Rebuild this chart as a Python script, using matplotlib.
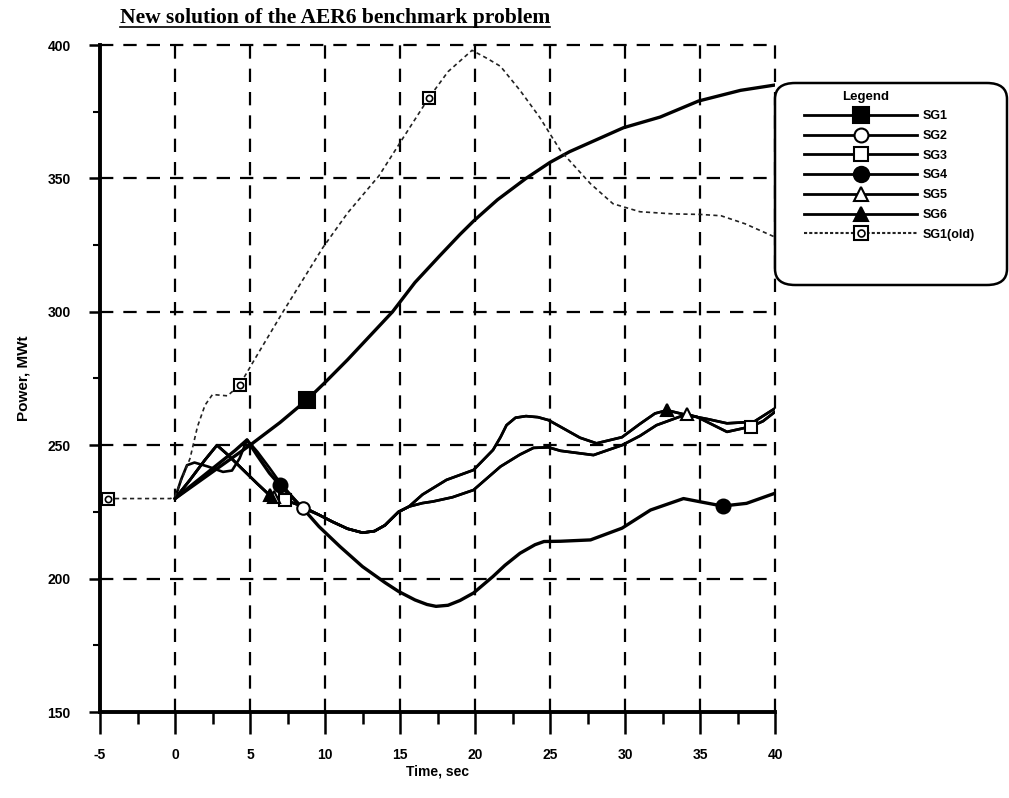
import numpy as np
import matplotlib
matplotlib.use("Agg")
import matplotlib.pyplot as plt
from matplotlib.lines import Line2D
from matplotlib.patches import FancyBboxPatch
from matplotlib.legend_handler import HandlerTuple
from matplotlib.ticker import MultipleLocator

plt.rcParams['font.family'] = ['Liberation Sans', 'DejaVu Sans']

# ---------------- data ----------------
sg1_t = [0, 2.5, 5, 7, 8.8, 10, 11.5, 12.5, 14.5, 16, 17.65, 19, 19.9, 21.5, 23.4, 25, 26.3, 27.7, 29.9, 32.35, 34.9, 37.7, 40]
sg1_p = [230, 240, 250, 258.5, 267, 273.5, 282, 288, 300, 311, 321, 329, 334, 342, 350, 356, 360, 363.5, 369, 373, 379, 383, 385]

sg2_t = [0, 0.4, 0.8, 1.3, 2.2, 3.2, 3.8, 4.3, 4.8, 5.5, 6.3, 7, 8.5, 9.6, 10.5, 11.5, 12.5, 13.3, 14, 14.9, 15.6, 16.5,
         18.1, 19.9, 21.2, 21.7, 22.1, 22.7, 23.4, 24.2, 24.9, 25.7, 27, 28.1, 29.8, 31, 32, 32.8, 34.2, 35.5, 36.8, 38.6, 40]
sg2_p = [230, 237, 242.5, 243.5, 242, 240, 240.5, 245, 252, 247.5, 241.5, 236, 226.4, 223.9, 221.3, 218.7, 217.2, 217.8, 220, 225, 227, 231.5,
         237, 240.7, 248.2, 253, 257.5, 260.3, 260.9, 260.5, 259.4, 256.9, 252.8, 250.7, 253, 258, 261.9, 263.1, 261.2, 259.8, 258.2, 258.8, 263.8]

sg3_t = [0, 1, 2, 2.8, 3.5, 4.5, 5.5, 6.3, 7.3, 8.3, 9.6, 10.5, 11.5, 12.5, 13.3, 14, 14.9, 15.6, 16.5, 17.2, 18.5, 19.9,
         21.7, 23, 23.9, 24.9, 25.7, 27.9, 29.8, 31, 32.1, 34.1, 34.8, 36.8, 38.4, 39.2, 40]
sg3_p = [230, 237, 244.5, 250, 246.5, 241, 235.5, 231.3, 229.5, 227.5, 223.9, 221.3, 218.7, 217.2, 217.8, 220, 225, 227, 228.3, 228.9, 230.5, 233.2,
         242, 246.5, 249, 249.2, 247.9, 246.3, 250, 253.5, 257.5, 261.6, 260.6, 255, 257, 259, 262.5]

sg4_t = [0, 2, 4, 4.8, 5.5, 6.3, 7, 8.5, 9.6, 11, 12.5, 14, 14.9, 16, 16.8, 17.4, 18.2, 19, 19.9, 21.2, 22, 23,
         24, 24.6, 25.7, 27.7, 29.8, 31.7, 33.9, 35, 36.5, 38.1, 40]
sg4_p = [230, 239, 248, 252, 246, 239.5, 235, 226.5, 219.5, 212, 204.5, 198.5, 195.2, 192, 190.3, 189.6, 190, 191.8, 194.6, 200.8, 205, 209.5,
         212.7, 213.9, 214, 214.5, 218.9, 225.7, 230, 228.8, 227.2, 228.2, 232]

sg5_t = sg3_t
sg5_p = sg3_p

sg6_t = [0, 1, 2, 2.8, 3.5, 4.5, 5.5, 6.3, 7.3, 8.3, 9.6, 10.5, 11.5, 12.5, 13.3, 14, 14.9, 15.6, 16.5,
         18.1, 19.9, 21.2, 21.7, 22.1, 22.7, 23.4, 24.2, 24.9, 25.7, 27, 28.1, 29.8, 31, 32, 32.8, 34.2, 35.5, 36.8, 38.6, 40]
sg6_p = [230, 237, 244.5, 250, 246.5, 241, 235.5, 231.3, 229.5, 227.5, 223.9, 221.3, 218.7, 217.2, 217.8, 220, 225, 227, 231.5,
         237, 240.7, 248.2, 253, 257.5, 260.3, 260.9, 260.5, 259.4, 256.9, 252.8, 250.7, 253, 258, 261.9, 263.1, 261.2, 259.8, 258.2, 258.8, 263.8]

old_t = [-5, -0.3, 0, 0.5, 1, 1.5, 2, 2.5, 3.5, 4.3, 5.5, 7.2, 9.85, 11.5, 13.6, 15.3, 16.9, 18.2, 19.8, 20.8,
         21.7, 23, 24.3, 25.7, 27.7, 29.2, 31, 33.2, 35, 36.4, 38, 40]
old_p = [230, 230, 231, 238, 245, 257, 265, 269, 268.5, 272.5, 284, 300, 324, 337, 351, 366, 380, 390, 398, 395,
         392, 383, 373, 360.4, 348, 340.5, 337.5, 336.7, 336.5, 336, 333, 328]

# marker times
sg1_mk = [8.8]
sg2_mk = [8.5]
sg3_mk = [7.3, 38.4]
sg4_mk = [7.0, 36.5]
sg5_mk = [6.6, 34.1]
sg6_mk = [6.3, 32.8]
old_mk = [-4.5, 4.3, 16.9]

x_ticks = list(range(-5, 41, 5))
y_ticks = list(range(150, 401, 50))

# ---------------- figure ----------------
W, H = 1009, 798
fig = plt.figure(figsize=(W / 100, H / 100), dpi=100)
ax = fig.add_axes([100 / W, (H - 712) / H, 675 / W, 667 / H])
ax.set_xlim(-5, 40)
ax.set_ylim(150, 400)

dash = (0, (6, 4.5))
for x in x_ticks[1:]:
    ax.axvline(x, color='black', lw=1.6, ls=dash, clip_on=False, zorder=1)
for y in y_ticks[1:]:
    ax.axhline(y, color='black', lw=1.6, ls=dash, clip_on=False, zorder=1)

series = [
    (sg1_t, sg1_p, sg1_mk, dict(marker='s', ms=11, mfc='black'), 2.4),
    (sg2_t, sg2_p, sg2_mk, dict(marker='o', ms=9, mfc='white'), 1.9),
    (sg3_t, sg3_p, sg3_mk, dict(marker='s', ms=9, mfc='white'), 1.9),
    (sg4_t, sg4_p, sg4_mk, dict(marker='o', ms=10, mfc='black'), 2.4),
    (sg5_t, sg5_p, sg5_mk, dict(marker='^', ms=9, mfc='white'), 1.9),
    (sg6_t, sg6_p, sg6_mk, dict(marker='^', ms=9, mfc='black'), 1.9),
]
for t, p, mk, mstyle, lw in series:
    ax.plot(t, p, color='black', lw=lw, zorder=3, solid_joinstyle='round', solid_capstyle='round')
    ax.plot(mk, np.interp(mk, t, p), ls='none', color='black', mec='black', mew=1.5, zorder=4, **mstyle)

ax.plot(old_t, old_p, color='#222222', lw=1.2, ls=(0, (2.5, 2)), zorder=3)
ax.plot(old_mk, np.interp(old_mk, old_t, old_p), ls='none', marker='s', ms=9, mfc='white',
        mec='black', mew=1.5, zorder=4)
ax.plot(old_mk, np.interp(old_mk, old_t, old_p), ls='none', marker='o', ms=4.5, mfc='white',
        mec='black', mew=1.2, zorder=5)

# spines & ticks
for s in ['top', 'right']:
    ax.spines[s].set_visible(False)
for s in ['left', 'bottom']:
    ax.spines[s].set_linewidth(2.8)
    ax.spines[s].set_zorder(6)

ax.set_xticks(x_ticks)
ax.set_yticks(y_ticks)
ax.set_xticklabels([str(v) for v in x_ticks])
ax.set_yticklabels([str(v) for v in y_ticks])
ax.xaxis.set_minor_locator(MultipleLocator(2.5))
ax.yaxis.set_minor_locator(MultipleLocator(25))
ax.tick_params(axis='x', which='major', direction='out', length=16, width=1.8, pad=10)
ax.tick_params(axis='x', which='minor', direction='out', length=8.5, width=1.8)
ax.tick_params(axis='y', which='major', direction='out', length=8, width=1.8, pad=13)
ax.tick_params(axis='y', which='minor', direction='out', length=5, width=1.5)
for lab in ax.get_xticklabels() + ax.get_yticklabels():
    lab.set_fontweight('bold')
    lab.set_fontsize(10)

ax.set_xlabel('Time, sec', fontsize=10, fontweight='bold', labelpad=2)
ax.set_ylabel('Power, MWt', fontsize=11, fontweight='bold', labelpad=12)

# title (underlined)
title = fig.text(335 / W, 1 - 18 / H, 'New solution of the AER6 benchmark problem',
                 ha='center', va='center', fontsize=15.5, fontweight='bold', family='Liberation Serif')
fig.canvas.draw()
bb = title.get_window_extent()
fig.add_artist(Line2D([bb.x0 / W, bb.x1 / W], [(bb.y0 + 1) / H, (bb.y0 + 1) / H],
                      color='black', lw=1.2, transform=fig.transFigure))

# legend box
box = FancyBboxPatch((775 / W, 1 - 285 / H), 232 / W, 202 / H,
                     boxstyle='round,pad=0,rounding_size=0.02', transform=fig.transFigure,
                     fc='white', ec='black', lw=1.8, zorder=10, clip_on=False)
fig.add_artist(box)
fig.text(866 / W, 1 - 97 / H, 'Legend', ha='center', va='center', fontsize=9.5,
         fontweight='bold', zorder=12)

labels = ['SG1', 'SG2', 'SG3', 'SG4', 'SG5', 'SG6', 'SG1(old)']
handles = []
for t, p, mk, mstyle, lw in series:
    st = dict(mstyle)
    st['ms'] = st['ms'] + 1
    handles.append(Line2D([], [], color='black', lw=2.0, mec='black', mew=1.5, **st))
h_old1 = Line2D([], [], color='#222222', lw=1.5, ls=(0, (1.5, 1)), marker='s', ms=10, mfc='white', mec='black', mew=1.5)
h_old2 = Line2D([], [], ls='none', marker='o', ms=5, mfc='white', mec='black', mew=1.2)
handles.append((h_old1, h_old2))

leg = fig.legend(handles, labels, loc='upper left', bbox_to_anchor=(798 / W, 1 - 104 / H),
                 frameon=False, handlelength=9, handletextpad=0.5,
                 labelspacing=0.62, borderpad=0, prop={'weight': 'bold', 'size': 9},
                 handler_map={tuple: HandlerTuple(ndivide=1)})
leg.set_zorder(11)

fig.savefig('out.png', dpi=100)
